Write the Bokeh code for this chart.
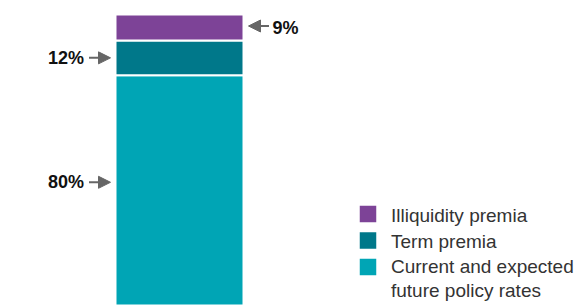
from bokeh.plotting import figure
from bokeh.models import Range1d, Arrow, NormalHead, ColumnDataSource
from bokeh.core.properties import value
from bokeh.embed import file_html
from bokeh.resources import INLINE

# ---- data ----
components = ["Current and expected\nfuture policy rates", "Term premia", "Illiquidity premia"]
shares = [80, 12, 9]
share_labels = ["80%", "12%", "9%"]
colors = ["#00A5B5", "#00788A", "#7D4397"]
label_side = ["left", "left", "right"]

# ---- layout (pixel geometry) ----
W, H = 575, 305
PXX = 128.0          # pixels per x unit (bar width = 1)
PXY = 2.89           # pixels per percentage point
BAR_CX = 179.0       # bar centre, px from left
BAR_TOP = 14.0       # px from top of the stacked total
X0 = -BAR_CX / PXX
X1 = X0 + W / PXX
Y1 = sum(shares) + BAR_TOP / PXY
Y0 = Y1 - H / PXY

def fx(px):  # pixel from left -> data x
    return X0 + px / PXX

def fy(py):  # pixel from top -> data y
    return Y1 - py / PXY

p = figure(width=W, height=H, output_backend="svg", toolbar_location=None,
           x_range=Range1d(X0, X1), y_range=Range1d(Y0, Y1),
           x_axis_location=None, y_axis_location=None, min_border=0)
p.grid.visible = False
p.outline_line_color = None
p.background_fill_color = "white"
p.border_fill_color = "white"

bottoms, tops = [], []
acc = 0
for s in shares:
    bottoms.append(acc)
    acc += s
    tops.append(acc)

src = ColumnDataSource(dict(x=[0] * len(shares), bottom=bottoms, top=tops, color=colors))
p.vbar(x="x", width=1, bottom="bottom", top="top", fill_color="color",
       line_color="white", line_width=2, source=src)

# value labels with arrows
arrow_col = "#666666"
for i, (b, t, lab, side) in enumerate(zip(bottoms, tops, share_labels, label_side)):
    mid = (b + t) / 2
    if i == 0:
        mid += 8.5 / PXY
    head = NormalHead(size=12, fill_color=arrow_col, line_color=arrow_col, line_width=1)
    if side == "left":
        p.add_layout(Arrow(end=head, x_start=fx(88.5), y_start=mid, x_end=fx(110), y_end=mid,
                           line_color=arrow_col, line_width=2))
        p.text(x=[fx(83.5)], y=[mid], text=[lab], text_align="right",
               text_baseline="middle", text_font=value("Liberation Sans"), text_font_style="bold",
               text_font_size="18px", text_color="#111111")
    else:
        mid_a = mid + 1.5 / PXY
        p.add_layout(Arrow(end=head, x_start=fx(268.5), y_start=mid_a, x_end=fx(248), y_end=mid_a,
                           line_color=arrow_col, line_width=2))
        p.text(x=[fx(272)], y=[mid], text=[lab], text_align="left",
               text_baseline="middle", text_font=value("Liberation Sans"), text_font_style="bold",
               text_font_size="18px", text_color="#111111")

# legend (manual)
leg_order = [2, 1, 0]
row_center = [213.5, 240.0, 266.5]   # px from top
LINE_H = 21.0
for r, i in zip(row_center, leg_order):
    p.scatter(x=[fx(367.5)], y=[fy(r)], marker="square", size=16.5,
              fill_color=colors[i], line_color=None)
    nlines = components[i].count("\n") + 1
    ty = r + 1 + (nlines - 1) * LINE_H / 2
    p.text(x=[fx(390.5)], y=[fy(ty)], text=[components[i]], text_align="left",
           text_baseline="middle", text_font=value("Liberation Sans"), text_font_size="19px",
           text_color="#333333", text_line_height=LINE_H / 19.0)

open("out.html", "w").write(file_html(p, INLINE))
